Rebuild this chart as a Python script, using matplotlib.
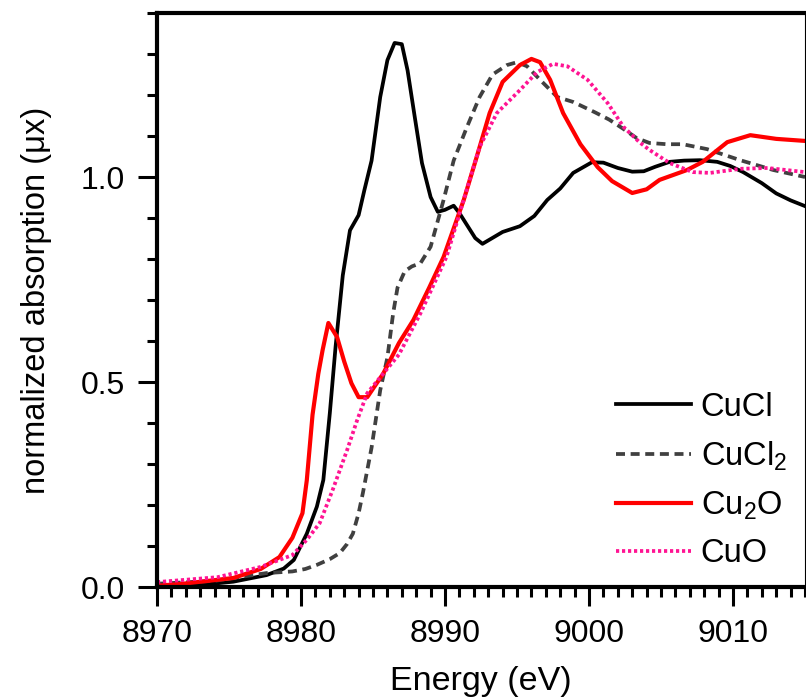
import matplotlib
matplotlib.use("Agg")
import matplotlib.pyplot as plt
from matplotlib.ticker import MultipleLocator, FormatStrFormatter

plt.rcParams['font.family'] = ['Liberation Sans', 'DejaVu Sans']
plt.rcParams['mathtext.fontset'] = 'custom'
plt.rcParams['mathtext.rm'] = 'Liberation Sans'

# CuCl
e_cucl = [8970, 8973, 8975.3, 8977.6, 8978.8, 8979.5, 8980.4, 8981.1, 8981.55, 8982.0,
          8982.4, 8982.9, 8983.4, 8984.0, 8984.4, 8984.9, 8985.5, 8986.0, 8986.5, 8987.0,
          8987.4, 8987.9, 8988.4, 8989.0, 8989.5, 8990.0, 8990.6, 8991.0, 8992.1, 8992.6,
          8994.0, 8995.2, 8996.2, 8997.1, 8998.0, 8998.9, 9000.2, 9001.0, 9002.0, 9003.0,
          9003.8, 9004.6, 9005.6, 9006.6, 9007.7, 9008.9, 9009.8, 9010.7, 9012.0, 9013.0,
          9014.0, 9015]
mu_cucl = [0.000, 0.005, 0.013, 0.029, 0.045, 0.066, 0.13, 0.196, 0.261, 0.424,
           0.586, 0.76, 0.87, 0.907, 0.968, 1.04, 1.195, 1.285, 1.327, 1.324,
           1.26, 1.146, 1.034, 0.951, 0.915, 0.92, 0.93, 0.912, 0.851, 0.837,
           0.866, 0.880, 0.905, 0.944, 0.972, 1.01, 1.036, 1.035, 1.022, 1.013,
           1.014, 1.025, 1.037, 1.040, 1.041, 1.037, 1.027, 1.012, 0.985, 0.96,
           0.943, 0.929]

# CuCl2
e_cucl2 = [8970, 8974, 8977.6, 8979.4, 8980.3, 8981.1, 8982.0, 8982.7, 8983.2, 8983.6,
           8984.0, 8984.3, 8984.9, 8985.5, 8986.0, 8986.4, 8986.7, 8987.2, 8987.7, 8988.3,
           8989.0, 8989.9, 8990.6, 8991.5, 8992.4, 8993.3, 8994.3, 8995.0, 8995.7, 8996.6,
           8997.8, 8998.9, 9000.4, 9001.4, 9002.4, 9003.3, 9004.2, 9005.4, 9006.5, 9008.2,
           9010.5, 9012.8, 9015]
mu_cucl2 = [0.008, 0.015, 0.034, 0.038, 0.044, 0.054, 0.068, 0.083, 0.105, 0.13,
            0.18, 0.23, 0.34, 0.48, 0.56, 0.668, 0.73, 0.77, 0.782, 0.79,
            0.83, 0.944, 1.04, 1.12, 1.195, 1.25, 1.273, 1.28, 1.27, 1.237,
            1.195, 1.183, 1.158, 1.14, 1.117, 1.095, 1.083, 1.08, 1.08, 1.068,
            1.041, 1.017, 1.0]

# Cu2O
e_cu2o = [8970, 8971.8, 8975.3, 8977.2, 8978.5, 8979.4, 8980.1, 8980.4, 8980.8, 8981.2,
          8981.5, 8981.9, 8982.5, 8983.0, 8983.5, 8984.0, 8984.6, 8985.7, 8986.8, 8987.8,
          8988.9, 8989.9, 8991.3, 8992.2, 8993.1, 8994.0, 8995.2, 8996.0, 8996.6, 8997.3,
          8998.2, 8999.4, 9000.6, 9001.6, 9003.0, 9004.0, 9004.9, 9006.8, 9007.9, 9009.6,
          9011.2, 9013.0, 9015]
mu_cu2o = [0.003, 0.008, 0.022, 0.044, 0.073, 0.12, 0.18, 0.26, 0.42, 0.52,
           0.578, 0.644, 0.61, 0.55, 0.497, 0.463, 0.463, 0.52, 0.595, 0.651,
           0.73, 0.805, 0.944, 1.049, 1.156, 1.232, 1.273, 1.288, 1.28, 1.237,
           1.156, 1.08, 1.024, 0.99, 0.961, 0.97, 0.993, 1.017, 1.037, 1.085,
           1.102, 1.093, 1.088]

# CuO
e_cuo = [8970, 8974.2, 8977.2, 8979.4, 8980.4, 8981.3, 8982.2, 8983.2, 8983.9, 8984.6,
         8985.7, 8986.8, 8988.3, 8990.1, 8991.5, 8992.4, 8993.6, 8995.2, 8996.4, 8997.5,
         8998.5, 8999.9, 9001.3, 9002.4, 9003.5, 9004.2, 9005.6, 9007.2, 9008.4, 9010.5,
         9012.4, 9015]
mu_cuo = [0.012, 0.024, 0.049, 0.078, 0.115, 0.156, 0.237, 0.334, 0.407, 0.473,
          0.52, 0.567, 0.668, 0.805, 0.968, 1.073, 1.156, 1.212, 1.256, 1.276,
          1.27, 1.237, 1.18, 1.122, 1.085, 1.066, 1.034, 1.012, 1.01, 1.02,
          1.022, 1.012]

fig = plt.figure(figsize=(8.06, 6.99), dpi=100)
ax = fig.add_axes([0.1948, 0.1602, 0.804, 0.8212])

ax.plot(e_cucl, mu_cucl, color='black', lw=2.7, label='CuCl')
ax.plot(e_cucl2, mu_cucl2, color='#404040', lw=2.7, dashes=(2.4, 1.5), label=r'CuCl$_\mathregular{2}$')
ax.plot(e_cu2o, mu_cu2o, color='#ff0000', lw=3.0, label=r'Cu$_\mathregular{2}$O')
ax.plot(e_cuo, mu_cuo, color='#ff1493', lw=2.7, linestyle=(0, (0.85, 0.75)), label='CuO')

ax.set_xlim(8970, 9015)
ax.set_ylim(0, 1.4)
ax.xaxis.set_major_locator(MultipleLocator(10))
ax.xaxis.set_minor_locator(MultipleLocator(1))
ax.yaxis.set_major_locator(MultipleLocator(0.5))
ax.yaxis.set_minor_locator(MultipleLocator(0.1))
ax.yaxis.set_major_formatter(FormatStrFormatter('%.1f'))

ax.tick_params(which='major', direction='out', length=14, width=2.2, labelsize=23, pad=9)
ax.tick_params(which='minor', direction='out', length=7.5, width=2.2)
ax.tick_params(top=False, right=False)

for side in ['left', 'bottom', 'top']:
    ax.spines[side].set_linewidth(3)
ax.spines['right'].set_linewidth(0.8)

ax.set_xlabel('Energy (eV)', fontsize=24.5, labelpad=12)
ax.set_ylabel('normalized absorption (\u03bcx)', fontsize=23.5, labelpad=21)

ax.legend(loc='lower right', frameon=False, fontsize=23.5, handlelength=2.3,
          handletextpad=0.3, labelspacing=0.5, borderaxespad=0.15)

fig.savefig('out.png', dpi=100)
